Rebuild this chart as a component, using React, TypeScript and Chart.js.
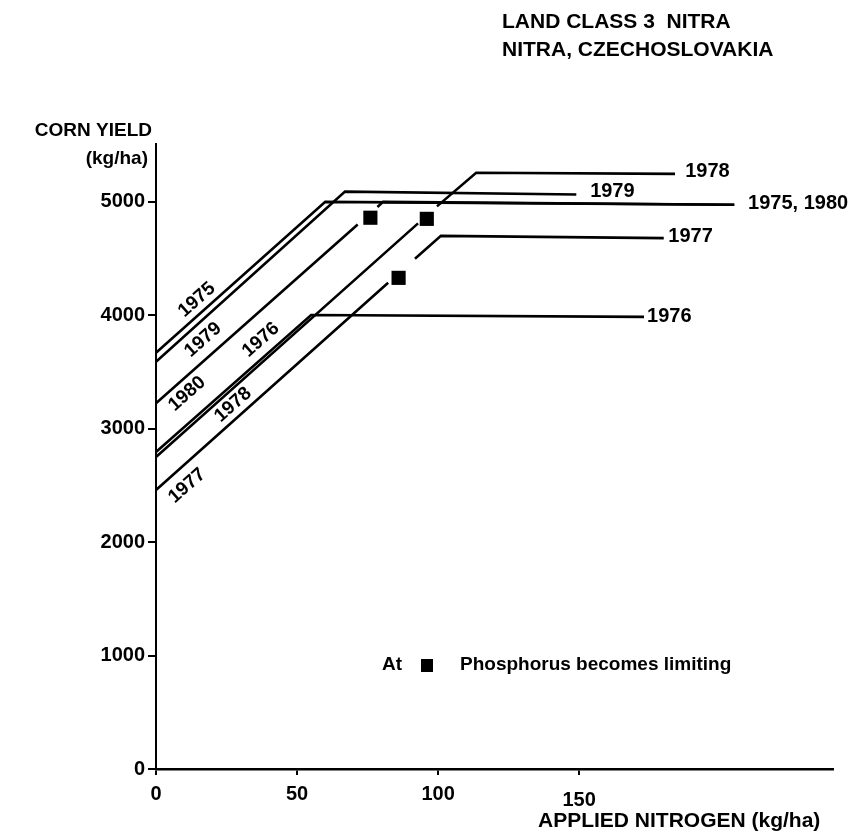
import React, { useEffect, useRef } from "react";
import { Chart, registerables } from "chart.js";
Chart.register(...registerables);

const titleLines = ["LAND CLASS 3  NITRA", "NITRA, CZECHOSLOVAKIA"];
const yTitleLines = ["CORN YIELD", "(kg/ha)"];
const xTitle = "APPLIED NITROGEN (kg/ha)";
const xTicks = [0, 50, 100, 150];
const yTicks = [0, 1000, 2000, 3000, 4000, 5000];

// Applied nitrogen (kg/ha) and corn yield (kg/ha) per year; null = break in line
const n1975 = [0, 60, 205];
const y1975 = [3670, 5000, 4975];
const n1976 = [0, 55, 173];
const y1976 = [2795, 4003, 3986];
const n1977 = [0, 82.3, 86, 91.8, 101, 180];
const y1977 = [2460, 4287, null, 4498, 4700, 4680];
const n1978 = [0, 92.9, 96, 99.6, 113.5, 184];
const y1978 = [2750, 4810, null, 4960, 5256, 5247];
const n1979 = [0, 67, 149];
const y1979 = [3590, 5090, 5065];
const n1980 = [0, 71.5, 76, 78.5, 80.5, 205];
const y1980 = [3225, 4800, null, 4955, 5000, 4975];

// points where phosphorus becomes limiting
const limitN = [76, 86, 96];
const limitY = [4860, 4330, 4850];

// year labels along the rising lines
const slopeLabels = ["1975", "1979", "1980", "1976", "1978", "1977"];
const slopeLabelN = [14.5, 16.7, 11.0, 37.2, 27.3, 11.0];
const slopeLabelY = [4136, 3783, 3307, 3783, 3210, 2496];

// year labels at the end of the plateaus
const endLabels = ["1978", "1979", "1975, 1980", "1977", "1976"];
const endLabelN = [187.6, 153.9, 209.9, 181.6, 174.1];
const endLabelY = [5265, 5088, 4982, 4691, 3986];

const legendText = ["At", "Phosphorus becomes limiting"];

const FONT = "Arial, 'Liberation Sans', sans-serif";

export default function App() {
  const ref = useRef<HTMLCanvasElement>(null);
  useEffect(() => {
    const canvas = ref.current!;
    const mk = (xs: number[], ys: (number | null)[]) => xs.map((x, i) => ({ x, y: ys[i] }));
    const lineDs = (label: string, xs: number[], ys: (number | null)[]) => ({
      label,
      data: mk(xs, ys),
      showLine: true,
      borderColor: "#000",
      backgroundColor: "#000",
      borderWidth: 2.6,
      pointRadius: 0,
      spanGaps: false,
      fill: false,
      tension: 0,
    });

    const textPlugin = {
      id: "texts",
      afterDraw(chart: any) {
        const { ctx } = chart;
        const xs = chart.scales.x;
        const ys = chart.scales.y;
        ctx.save();
        ctx.fillStyle = "#000";
        // title
        ctx.font = `bold 21px ${FONT}`;
        ctx.textAlign = "left";
        ctx.textBaseline = "middle";
        ctx.fillText(titleLines[0], 502, 22);
        ctx.fillText(titleLines[1], 502, 50);
        // y title
        ctx.font = `bold 19px ${FONT}`;
        ctx.textAlign = "right";
        ctx.fillText(yTitleLines[0], 152, 131);
        ctx.fillText(yTitleLines[1], 148, 159);
        // x tick labels
        ctx.font = `bold 20px ${FONT}`;
        ctx.textAlign = "center";
        ctx.textBaseline = "top";
        xTicks.forEach((v) => {
          const px = xs.getPixelForValue(v);
          ctx.fillText(String(v), px, v === 150 ? 790 : 784);
        });
        // x title
        ctx.font = `bold 21px ${FONT}`;
        ctx.textAlign = "left";
        ctx.textBaseline = "middle";
        ctx.fillText(xTitle, 538, 821);
        // slope labels
        const ang = Math.atan2(
          ys.getPixelForValue(y1976[1] as number) - ys.getPixelForValue(y1976[0] as number),
          xs.getPixelForValue(n1976[1]) - xs.getPixelForValue(n1976[0])
        );
        ctx.font = `bold 19px ${FONT}`;
        ctx.textAlign = "center";
        slopeLabels.forEach((t, i) => {
          ctx.save();
          ctx.translate(xs.getPixelForValue(slopeLabelN[i]), ys.getPixelForValue(slopeLabelY[i]));
          ctx.rotate(ang);
          ctx.fillText(t, 0, 0);
          ctx.restore();
        });
        // end labels
        ctx.font = `bold 20px ${FONT}`;
        ctx.textAlign = "left";
        endLabels.forEach((t, i) => {
          ctx.fillText(t, xs.getPixelForValue(endLabelN[i]), ys.getPixelForValue(endLabelY[i]));
        });
        // legend
        ctx.font = `bold 19px ${FONT}`;
        ctx.fillText(legendText[0], 382, 665);
        ctx.fillRect(421, 659, 12, 13);
        ctx.fillText(legendText[1], 460, 665);
        ctx.restore();
      },
    };

    const chart = new Chart(canvas, {
      type: "scatter",
      data: {
        datasets: [
          lineDs("1975", n1975, y1975),
          lineDs("1976", n1976, y1976),
          lineDs("1977", n1977, y1977),
          lineDs("1978", n1978, y1978),
          lineDs("1979", n1979, y1979),
          lineDs("1980", n1980, y1980),
          {
            label: "Phosphorus becomes limiting",
            data: mk(limitN, limitY),
            showLine: false,
            pointStyle: "rect",
            pointRadius: 10,
            backgroundColor: "#000",
            borderColor: "#000",
            borderWidth: 0,
          } as any,
        ],
      },
      options: {
        responsive: false,
        animation: false,
        devicePixelRatio: 1,
        layout: { padding: { top: 144, right: 26, left: 0, bottom: 0 } },
        plugins: { legend: { display: false }, tooltip: { enabled: false } },
        scales: {
          x: {
            type: "linear",
            min: 0,
            max: 240,
            afterBuildTicks: (s: any) => {
              s.ticks = xTicks.map((v) => ({ value: v }));
            },
            afterFit: (s: any) => {
              s.height = 64;
            },
            border: { display: true, color: "#000", width: 2.6 },
            grid: { drawOnChartArea: false, drawTicks: true, tickLength: 6, color: "#000", lineWidth: 2 },
            ticks: { display: false },
          },
          y: {
            type: "linear",
            min: 0,
            max: 5510,
            afterBuildTicks: (s: any) => {
              s.ticks = yTicks.map((v) => ({ value: v }));
            },
            afterFit: (s: any) => {
              s.width = 156;
            },
            border: { display: true, color: "#000", width: 2 },
            grid: { drawOnChartArea: false, drawTicks: true, tickLength: 8, color: "#000", lineWidth: 2 },
            ticks: {
              color: "#000",
              padding: 3,
              font: { family: FONT, size: 20, weight: "bold" },
              callback: (v: any) => String(v),
            },
          },
        },
      },
      plugins: [textPlugin],
    });
    return () => chart.destroy();
  }, []);
  return (
    <div style={{ position: "fixed", left: 0, top: 0, width: 859, height: 833, background: "#fff" }}>
      <canvas ref={ref} width={859} height={833} style={{ display: "block" }} />
    </div>
  );
}
